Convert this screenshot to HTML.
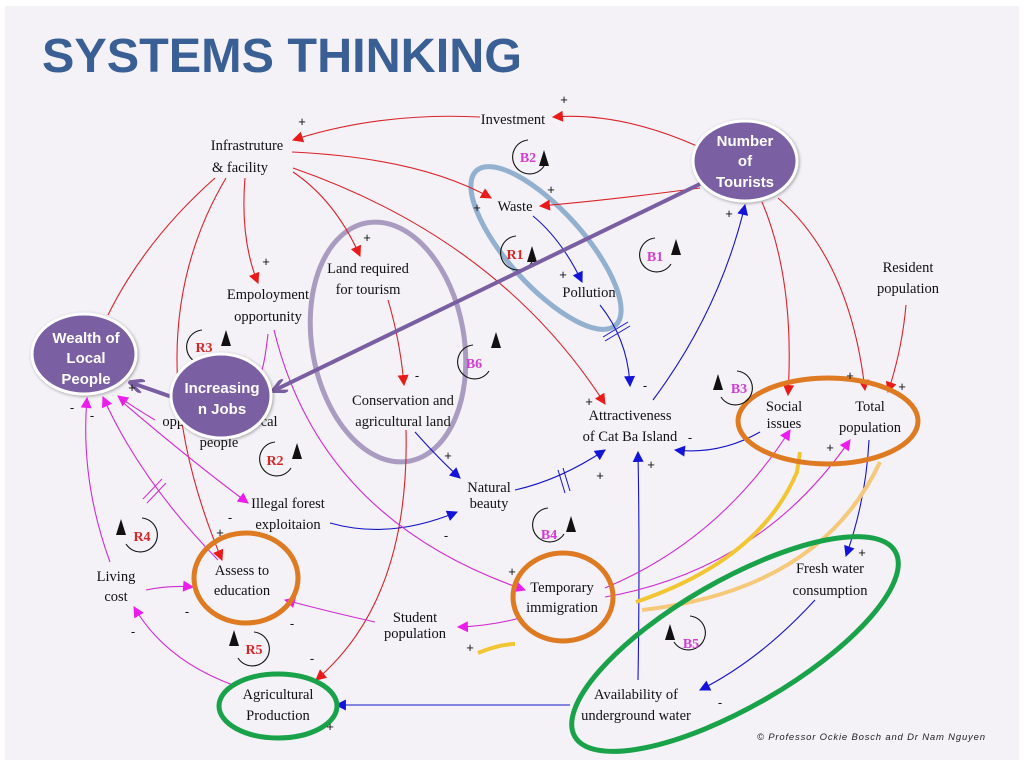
<!DOCTYPE html>
<html><head><meta charset="utf-8"><style>
html,body{margin:0;padding:0;background:#fff;}
svg{display:block;}
.l{font-family:"Liberation Serif",serif;font-size:14.5px;fill:#111;text-anchor:middle;}
.s{font-family:"Liberation Sans",sans-serif;font-size:13px;fill:#111;text-anchor:middle;}
.w{font-family:"Liberation Sans",sans-serif;font-size:15px;font-weight:bold;fill:#fff;text-anchor:middle;}
.lr{font-family:"Liberation Serif",serif;font-size:14px;font-weight:bold;fill:#d42828;text-anchor:middle;}
.lb{font-family:"Liberation Serif",serif;font-size:14px;font-weight:bold;fill:#d23cd2;text-anchor:middle;}
</style></head><body>
<svg width="1024" height="768" viewBox="0 0 1024 768" xmlns="http://www.w3.org/2000/svg">
<defs>
<marker id="ar" viewBox="0 0 10 10" refX="9" refY="5" markerWidth="14" markerHeight="11" markerUnits="userSpaceOnUse" orient="auto"><path d="M0,0L10,5L0,10z" fill="#e81a1a"/></marker>
<marker id="ab" viewBox="0 0 10 10" refX="9" refY="5" markerWidth="14" markerHeight="11" markerUnits="userSpaceOnUse" orient="auto"><path d="M0,0L10,5L0,10z" fill="#1414d8"/></marker>
<marker id="am" viewBox="0 0 10 10" refX="9" refY="5" markerWidth="14" markerHeight="11" markerUnits="userSpaceOnUse" orient="auto"><path d="M0,0L10,5L0,10z" fill="#ec1cec"/></marker>
<marker id="ap" viewBox="0 0 10 10" refX="8" refY="5" markerWidth="16" markerHeight="14" markerUnits="userSpaceOnUse" orient="auto"><path d="M0,0L10,5L0,10" fill="none" stroke="#7a5ea2" stroke-width="2.5"/></marker>
<filter id="sh"><feDropShadow dx="1" dy="1" stdDeviation="1.5" flood-color="#000" flood-opacity="0.35"/></filter>
</defs>
<rect x="0" y="0" width="1024" height="768" fill="#fff"/>
<rect x="5" y="6" width="1014" height="754" fill="#f4f2f7"/>
<text x="42" y="72" font-family="Liberation Sans,sans-serif" font-weight="bold" font-size="48" fill="#3a5f94" textLength="480" lengthAdjust="spacingAndGlyphs">SYSTEMS THINKING</text>

<!-- colored ellipses -->
<ellipse cx="546" cy="248" rx="104" ry="38" transform="rotate(48 546 248)" fill="none" stroke="#93b0cf" stroke-width="5"/>
<ellipse cx="388" cy="342" rx="76" ry="121" transform="rotate(-10 388 342)" fill="none" stroke="#a99cc0" stroke-width="5"/>

<g fill="none" stroke-width="1.1">
<!-- red -->
<g stroke="#d9232a" marker-end="url(#ar)">
<path d="M697,146 Q620,112 553,117"/>
<path d="M480,117 Q380,112 293,140"/>
<path d="M292,152 Q420,158 491,198"/>
<path d="M700,188 Q610,200 540,206"/>
<path d="M293,172 Q335,200 360,256"/>
<path d="M245,178 Q240,240 258,283"/>
<path d="M293,168 Q500,240 605,404"/>
<path d="M388,300 Q400,340 404,385"/>
<path d="M406,430 Q410,600 316,680"/>
<path d="M762,202 Q795,280 788,395"/>
<path d="M778,198 Q850,260 865,390"/>
<path d="M906,305 Q902,350 888,392"/>
<path d="M226,178 Q130,340 222,560"/>
</g>
<path stroke="#d9232a" d="M215,178 Q145,240 108,315"/>
<!-- blue -->
<g stroke="#1414c8" marker-end="url(#ab)">
<path d="M533,216 Q562,240 582,282"/>
<path d="M600,305 Q628,340 630,386"/>
<path d="M653,400 Q720,310 745,205"/>
<path d="M760,432 Q720,455 675,450"/>
<path d="M415,432 Q440,460 460,478"/>
<path d="M330,523 Q390,540 457,512"/>
<path d="M515,490 Q560,480 605,450"/>
<path d="M638,680 Q640,560 638,452"/>
<path d="M869,440 Q866,500 846,556"/>
<path d="M815,600 Q760,660 700,690"/>
<path d="M570,705 L336,705"/>
</g>
<!-- magenta -->
<g stroke="#cf2ccf" marker-end="url(#am)">
<path d="M274,330 Q320,520 525,590"/>
<path d="M605,588 Q720,540 790,430"/>
<path d="M605,597 Q760,570 850,440"/>
<path d="M520,618 Q490,626 458,627"/>
<path d="M375,622 Q330,612 285,600"/>
<path d="M146,590 Q170,585 193,587"/>
<path d="M233,685 Q165,660 134,607"/>
<path d="M110,562 Q80,480 87,398"/>
<path d="M218,560 Q140,480 103,397"/>
<path d="M155,420 Q130,405 118,396"/>
<path d="M120,400 Q190,460 248,503"/>
</g>
<path stroke="#cf2ccf" d="M268,334 Q265,360 262,370"/>
</g>
<!-- hash marks -->
<g stroke="#1414c8" stroke-width="1"><path d="M603,337 L628,322 M605,341 L630,326"/><path d="M558,470 L565,493 M563,468 L570,491"/></g>
<g stroke="#cf2ccf" stroke-width="1"><path d="M143,499 L162,479 M147,503 L166,483"/></g>

<!-- yellow lines -->
<path d="M636,602 Q760,560 797,472 L800,452" fill="none" stroke="#f2c533" stroke-width="4"/>
<path d="M478,653 Q500,644 515,644" fill="none" stroke="#f2c533" stroke-width="4"/>
<path d="M642,610 Q820,590 880,462" fill="none" stroke="#f5c87a" stroke-width="4"/>

<!-- orange/green ellipses -->
<ellipse cx="828" cy="421" rx="90" ry="43" fill="none" stroke="#dd7a22" stroke-width="5"/>
<ellipse cx="246" cy="578" rx="52" ry="45" fill="none" stroke="#dd7a22" stroke-width="5"/>
<ellipse cx="563" cy="597" rx="50" ry="44" fill="none" stroke="#dd7a22" stroke-width="5"/>
<ellipse cx="278" cy="706" rx="59" ry="32" fill="none" stroke="#1aa24a" stroke-width="5"/>
<ellipse cx="735" cy="644" rx="185" ry="63" transform="rotate(-30 735 644)" fill="none" stroke="#1aa24a" stroke-width="5"/>

<!-- loops -->
<g fill="none" stroke="#111" stroke-width="1.1">
<path d="M528,140 A17,17 0 1 0 544,166"/>
<path d="M516,236 A17,17 0 1 0 532,262"/>
<path d="M655,238 A17,17 0 1 0 671,264"/>
<path d="M202,330 A17,17 0 1 0 218,356"/>
<path d="M473,345 A17,17 0 1 0 489,371"/>
<path d="M275,442 A17,17 0 1 0 291,468"/>
<path d="M142,518 A17,17 0 1 1 126,544"/>
<path d="M737,371 A17,17 0 1 1 721,397"/>
<path d="M548,508 A17,17 0 1 0 564,534"/>
<path d="M254,632 A17,17 0 1 1 238,658"/>
<path d="M690,616 A17,17 0 1 1 674,642"/>
</g>
<g fill="#111">
<path d="M544,150 L549,166 L539,166z"/>
<path d="M532,246 L537,262 L527,262z"/>
<path d="M676,239 L681,255 L671,255z"/>
<path d="M226,330 L231,346 L221,346z"/>
<path d="M496,332 L501,348 L491,348z"/>
<path d="M297,443 L302,459 L292,459z"/>
<path d="M121,519 L126,535 L116,535z"/>
<path d="M718,374 L723,390 L713,390z"/>
<path d="M571,516 L576,532 L566,532z"/>
<path d="M234,630 L239,646 L229,646z"/>
<path d="M670,624 L675,640 L665,640z"/>
</g>
<text class="lb" x="528" y="162">B2</text>
<text class="lr" x="515" y="259">R1</text>
<text class="lb" x="655" y="261">B1</text>
<text class="lr" x="204" y="352">R3</text>
<text class="lb" x="474" y="368">B6</text>
<text class="lr" x="275" y="465">R2</text>
<text class="lr" x="142" y="541">R4</text>
<text class="lb" x="739" y="393">B3</text>
<text class="lb" x="549" y="539">B4</text>
<text class="lr" x="254" y="654">R5</text>
<text class="lb" x="691" y="648">B5</text>

<!-- labels -->
<text class="l" x="513" y="124">Investment</text>
<text class="l" x="247" y="150">Infrastruture</text><text class="l" x="240" y="172">&amp; facility</text>
<text class="l" x="515" y="211">Waste</text>
<text class="l" x="589" y="297">Pollution</text>
<text class="l" x="368" y="273">Land required</text><text class="l" x="368" y="294">for tourism</text>
<text class="l" x="268" y="299">Empoloyment</text><text class="l" x="268" y="321">opportunity</text>
<text class="l" x="403" y="405">Conservation and</text><text class="l" x="403" y="426">agricultural land</text>
<text class="l" x="630" y="420">Attractiveness</text><text class="l" x="630" y="441">of Cat Ba Island</text>
<text class="l" x="784" y="411">Social</text><text class="l" x="784" y="428">issues</text>
<text class="l" x="870" y="411">Total</text><text class="l" x="870" y="432">population</text>
<text class="l" x="908" y="272">Resident</text><text class="l" x="908" y="293">population</text>
<text class="l" x="489" y="492">Natural</text><text class="l" x="489" y="508">beauty</text>
<text class="l" x="288" y="508">Illegal forest</text><text class="l" x="288" y="529">exploitaion</text>
<text class="l" x="220" y="426">opportunity of local</text><text class="l" x="219" y="447">people</text>
<text class="l" x="116" y="581">Living</text><text class="l" x="116" y="601">cost</text>
<text class="l" x="242" y="575">Assess to</text><text class="l" x="242" y="595">education</text>
<text class="l" x="562" y="592">Temporary</text><text class="l" x="562" y="612">immigration</text>
<text class="l" x="415" y="622">Student</text><text class="l" x="415" y="638">population</text>
<text class="l" x="830" y="573">Fresh water</text><text class="l" x="830" y="595">consumption</text>
<text class="l" x="278" y="699">Agricultural</text><text class="l" x="278" y="720">Production</text>
<text class="l" x="636" y="699">Availability of</text><text class="l" x="636" y="720">underground water</text>

<!-- purple arrows -->
<g stroke="#7a5ea2" stroke-width="4" fill="none" marker-end="url(#ap)">
<path d="M700,184 L275,390"/>
<path d="M172,397 L132,383"/>
</g>

<!-- purple nodes -->
<g filter="url(#sh)" fill="#7a5ea2" stroke="#fff" stroke-width="3">
<ellipse cx="745" cy="161" rx="52" ry="40"/>
<ellipse cx="84" cy="354" rx="52" ry="40"/>
<ellipse cx="221" cy="396" rx="50" ry="42"/>
</g>
<text class="w" x="745" y="146">Number</text><text class="w" x="745" y="166">of</text><text class="w" x="745" y="187">Tourists</text>
<text class="w" x="86" y="343">Wealth of</text><text class="w" x="86" y="363">Local</text><text class="w" x="86" y="384">People</text>
<text class="w" x="222" y="393">Increasing</text><text class="w" x="222" y="414">n Jobs</text>

<!-- signs -->
<g class="s">
<text x="564" y="104">+</text><text x="302" y="126">+</text><text x="551" y="194">+</text><text x="477" y="212">+</text>
<text x="367" y="242">+</text><text x="266" y="266">+</text><text x="563" y="279">+</text><text x="729" y="218">+</text>
<text x="417" y="380">-</text><text x="589" y="406">+</text><text x="645" y="390">-</text><text x="690" y="442">-</text>
<text x="448" y="460">+</text><text x="600" y="480">+</text><text x="651" y="469">+</text><text x="446" y="540">-</text>
<text x="132" y="392">+</text><text x="72" y="412">-</text><text x="92" y="420">-</text><text x="230" y="522">-</text>
<text x="220" y="537">+</text><text x="187" y="616">-</text><text x="133" y="636">-</text><text x="292" y="628">-</text>
<text x="312" y="663">-</text><text x="330" y="731">+</text><text x="512" y="576">+</text><text x="470" y="652">+</text>
<text x="830" y="452">+</text><text x="862" y="557">+</text><text x="720" y="707">-</text><text x="902" y="391">+</text>
<text x="850" y="380">+</text>
</g>
<text x="757" y="740" font-family="Liberation Sans,sans-serif" font-style="italic" font-size="9.5" fill="#222" textLength="228">© Professor Ockie Bosch and Dr Nam Nguyen</text>
</svg>
</body></html>
